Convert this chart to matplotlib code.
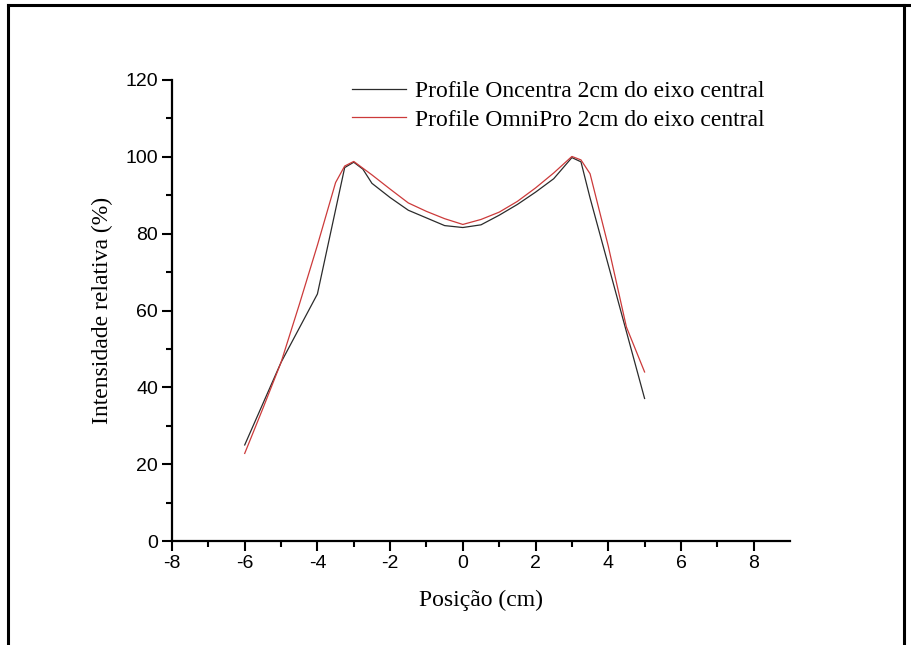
import matplotlib
matplotlib.use("Agg")
import matplotlib.pyplot as plt
from matplotlib.lines import Line2D

# perfil Oncentra (preto)
x_oncentra = [-6, -5, -4, -3.25, -3, -2.75, -2.5, -2, -1.5, -1, -0.5, 0, 0.5,
              1, 1.5, 2, 2.5, 3, 3.25, 3.5, 4, 4.5, 5]
y_oncentra = [25.0, 46.5, 64.3, 97.2, 98.6, 96.8, 93.1, 89.4, 86.1, 84.1, 82.1,
              81.6, 82.3, 84.8, 87.6, 90.8, 94.3, 99.8, 98.7, 89.3, 71.9, 54.5, 37.1]

# perfil OmniPro (vermelho)
x_omnipro = [-6, -5.5, -5, -4.5, -4, -3.5, -3.25, -3, -2.5, -2, -1.5, -1, -0.5,
             0, 0.5, 1, 1.5, 2, 2.5, 3, 3.25, 3.5, 4, 4.5, 5]
y_omnipro = [22.8, 34.5, 46.5, 61.5, 77.0, 93.3, 97.6, 98.8, 95.3, 91.6, 88.0,
             85.8, 83.9, 82.4, 83.7, 85.6, 88.4, 91.9, 95.8, 100.1, 99.2, 95.6,
             76.8, 55.7, 44.0]

nomes = ["Profile Oncentra 2cm do eixo central",
         "Profile OmniPro 2cm do eixo central"]

serif = ["Liberation Serif", "DejaVu Serif"]
sans = ["Liberation Sans", "DejaVu Sans"]
plt.rcParams["axes.unicode_minus"] = False

fig = plt.figure(figsize=(9.11, 6.45), dpi=100)
ax = fig.add_axes([172 / 911, 1 - 541 / 645, (790 - 172) / 911, (541 - 80) / 645])

ax.plot(x_oncentra, y_oncentra, color="#2b2b2b", lw=0.9, label=nomes[0])
ax.plot(x_omnipro, y_omnipro, color="#cc3a3a", lw=0.9, label=nomes[1])

ax.set_xlim(-8, 9)
ax.set_ylim(0, 120)
ax.set_xticks(range(-8, 9, 2))
ax.set_xticks(range(-7, 9, 2), minor=True)
ax.set_yticks(range(0, 121, 20))
ax.set_yticks(range(10, 120, 20), minor=True)

for s in ["top", "right"]:
    ax.spines[s].set_visible(False)
for s in ["left", "bottom"]:
    ax.spines[s].set_linewidth(1.6)

ax.tick_params(which="major", direction="out", length=7, width=1.5, pad=3)
ax.tick_params(which="minor", direction="out", length=4, width=1.5)
for lab in ax.get_xticklabels() + ax.get_yticklabels():
    lab.set_family(sans)
    lab.set_fontsize(14)

ax.set_xlabel("Posição (cm)", family=serif, fontsize=17, labelpad=13)
ax.set_ylabel("Intensidade relativa (%)", family=serif, fontsize=17, labelpad=9)

ax.legend(loc="upper left", bbox_to_anchor=(0.257, 1.045), frameon=False,
          prop={"family": serif, "size": 17}, handlelength=2.3,
          handletextpad=0.35, labelspacing=0.3)

# moldura da figura
borda = dict(color="black", lw=2.2, transform=fig.transFigure)
fig.add_artist(Line2D([8 / 911, 8 / 911], [0, 1 - 5 / 645], **borda))
fig.add_artist(Line2D([8 / 911, 1], [1 - 5 / 645, 1 - 5 / 645], **borda))
fig.add_artist(Line2D([904 / 911, 904 / 911], [0, 1 - 5 / 645], **borda))

fig.savefig("out.png", dpi=100)
